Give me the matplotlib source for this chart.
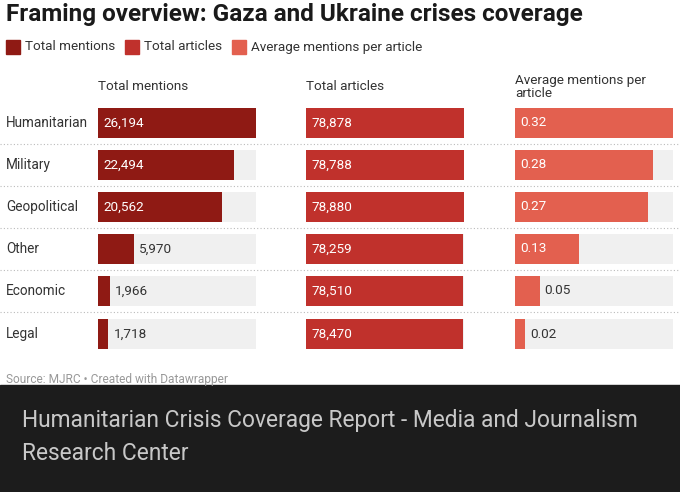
import matplotlib
matplotlib.use("Agg")
import matplotlib.pyplot as plt

categories = ["Humanitarian", "Military", "Geopolitical", "Other", "Economic", "Legal"]
mentions = [26194, 22494, 20562, 5970, 1966, 1718]
articles = [78878, 78788, 78880, 78259, 78510, 78470]
avg_mentions = [0.32, 0.28, 0.27, 0.13, 0.05, 0.02]
mention_labels = ["26,194", "22,494", "20,562", "5,970", "1,966", "1,718"]
article_labels = ["78,878", "78,788", "78,880", "78,259", "78,510", "78,470"]
avg_labels = ["0.32", "0.28", "0.27", "0.13", "0.05", "0.02"]

colors = ["#8f1a14", "#c0312c", "#e3604f"]
series = [
    ("Total mentions", mentions, mention_labels, 26194),
    ("Total articles", articles, article_labels, 78880),
    ("Average mentions per\narticle", avg_mentions, avg_labels, 0.32),
]

plt.rcParams["font.family"] = ["Roboto", "DejaVu Sans"]
fig = plt.figure(figsize=(6.8, 4.92), dpi=100)
ax = fig.add_axes([0, 0, 1, 1])
ax.set_xlim(0, 680)
ax.set_ylim(492, 0)
ax.axis("off")

ax.text(6, 14, "Framing overview: Gaza and Ukraine crises coverage", fontsize=17.5,
        fontweight="bold", va="center", color="#1a1a1a")

# legend
leg_x = [6, 125, 232]
leg_names = ["Total mentions", "Total articles", "Average mentions per article"]
for x, c, n in zip(leg_x, colors, leg_names):
    ax.add_patch(plt.Rectangle((x, 40), 14, 14, color=c))
    ax.text(x + 19, 47, n, fontsize=9.7, va="center", color="#333333")

col_x = [98, 306, 515]
col_w = 158
row_y = [123, 165, 207, 249, 291, 334]
bh = 30

for (name, vals, labs, vmax), cx, c in zip(series, col_x, colors):
    ax.text(cx, 87, name, fontsize=9.7, va="center", color="#333333", linespacing=1.0)
    widths = [v / vmax * col_w for v in vals]
    ax.barh(row_y, [col_w] * len(vals), left=cx, height=bh, color="#f0f0f0")
    ax.barh(row_y, widths, left=cx, height=bh, color=c)
    for y, w, lab in zip(row_y, widths, labs):
        if w > 60:
            ax.text(cx + 5, y, lab, color="white", fontsize=9.7, va="center")
        else:
            ax.text(cx + w + 5, y, lab, color="#333333", fontsize=9.7, va="center")

for y, cat in zip(row_y, categories):
    ax.text(6, y, cat, fontsize=9.8, va="center", color="#333333")

for y in [144, 186, 228, 270, 312]:
    ax.plot([0, 680], [y, y], color="#bbbbbb", lw=0.8, ls=(0, (1, 2)))

ax.text(6, 379, "Source: MJRC \u2022 Created with Datawrapper", fontsize=8.6,
        va="center", color="#999999")

ax.add_patch(plt.Rectangle((0, 385), 680, 107, color="#1c1c1c"))
ax.text(22, 420, "Humanitarian Crisis Coverage Report - Media and Journalism",
        fontsize=16.4, va="center", color="#c8c8c8")
ax.text(22, 454, "Research Center", fontsize=16.4, va="center", color="#c8c8c8")

fig.savefig("out.png", dpi=100)
